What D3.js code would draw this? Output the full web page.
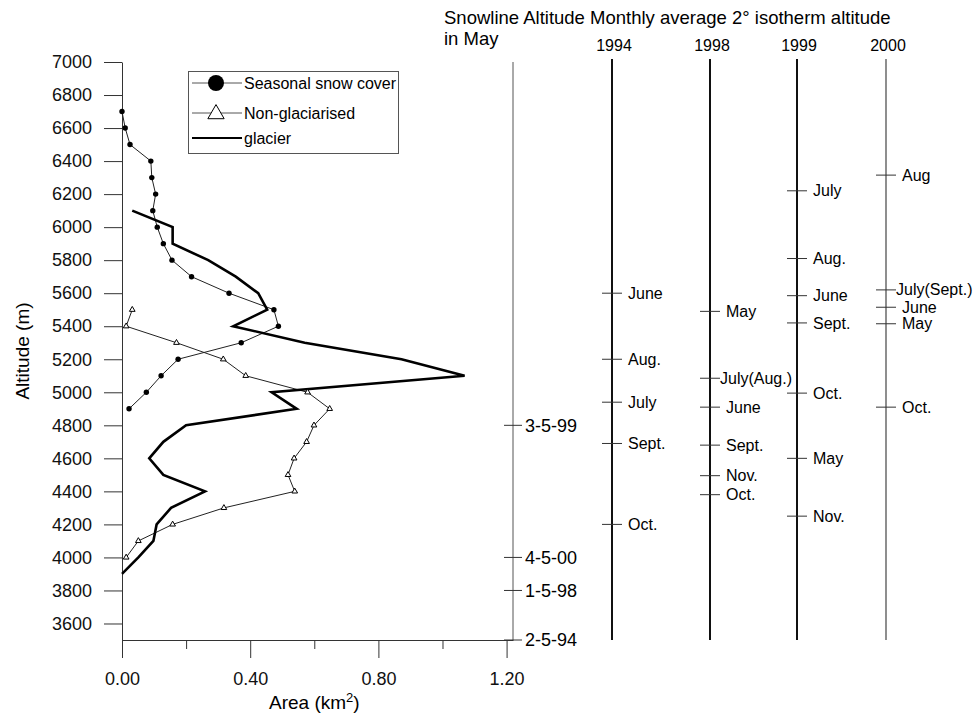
<!DOCTYPE html>
<html>
<head>
<meta charset="utf-8">
<script src="https://cdn.jsdelivr.net/npm/d3@7"></script>
<style>
  body { margin: 0; background: #fff; }
  svg, svg text { font-family: "Liberation Sans", Arial, Helvetica, sans-serif; }
  .axis text { font-size: 18px; fill: #111; font-family: "Liberation Sans", Arial, Helvetica, sans-serif; }
  .axis path, .axis line { stroke: #333; }
</style>
</head>
<body>
<div class="chartdiv"></div>
<script>
// area (km2) by altitude band
var snowAlt = [6700, 6600, 6500, 6400, 6300, 6200, 6100, 6000, 5900, 5800, 5700, 5600, 5500, 5400, 5300, 5200, 5100, 5000, 4900];
var snowArea = [0.00, 0.01, 0.025, 0.09, 0.093, 0.105, 0.096, 0.11, 0.129, 0.156, 0.217, 0.334, 0.474, 0.488, 0.372, 0.175, 0.122, 0.076, 0.022];

var nonGlacAlt = [5500, 5400, 5300, 5200, 5100, 5000, 4900, 4800, 4700, 4600, 4500, 4400, 4300, 4200, 4100, 4000];
var nonGlacArea = [0.032, 0.013, 0.17, 0.316, 0.386, 0.579, 0.648, 0.599, 0.576, 0.537, 0.518, 0.539, 0.318, 0.158, 0.051, 0.013];

var glacierAlt = [6100, 6000, 5900, 5800, 5700, 5600, 5500, 5400, 5300, 5200, 5100, 5000, 4900, 4800, 4700, 4600, 4500, 4400, 4300, 4200, 4100, 4000, 3900];
var glacierArea = [0.032, 0.158, 0.158, 0.269, 0.355, 0.425, 0.453, 0.347, 0.570, 0.872, 1.069, 0.467, 0.545, 0.200, 0.129, 0.085, 0.129, 0.259, 0.153, 0.108, 0.098, 0.051, 0.00];

// snowline altitude in May
var snowDates = ["3-5-99", "4-5-00", "1-5-98", "2-5-94"];
var snowDateAlt = [4800, 4000, 3800, 3500];

// monthly average 2 degree isotherm altitude
var years = ["1994", "1998", "1999", "2000"];
var months1994 = ["June", "Aug.", "July", "Sept.", "Oct."];
var alt1994 = [5600, 5200, 4940, 4690, 4200];
var months1998 = ["May", "July(Aug.)", "June", "Sept.", "Nov.", "Oct."];
var alt1998 = [5490, 5085, 4910, 4680, 4495, 4380];
var months1999 = ["July", "Aug.", "June", "Sept.", "Oct.", "May", "Nov."];
var alt1999 = [6220, 5810, 5585, 5420, 4995, 4600, 4250];
var months2000 = ["Aug", "July(Sept.)", "June", "May", "Oct."];
var alt2000 = [6315, 5620, 5515, 5415, 4910];

var xTicks = [0, 0.4, 0.8, 1.2];
var xMinor = [0.2, 0.6, 1.0];
var yTicks = d3.range(3600, 7001, 200);

var margin = {top: 62, right: 463, bottom: 77, left: 122};
var width = 976 - margin.left - margin.right;
var height = 717 - margin.top - margin.bottom;

var x = d3.scaleLinear().domain([0, 1.22]).range([0, width]);
var y = d3.scaleLinear().domain([3500, 7000]).range([height, 0]);

var svgRoot = d3.select(".chartdiv")
    .append("svg")
    .attr("width", 976)
    .attr("height", 717);

svgRoot.append("rect").attr("width", 976).attr("height", 717).attr("fill", "#fff");

var svg = svgRoot.append("g")
    .attr("transform", "translate(" + margin.left + "," + margin.top + ")");

// y axis
svg.append("g")
    .classed("axis", true)
    .call(d3.axisLeft(y).tickValues(yTicks).tickSize(18).tickSizeOuter(0).tickPadding(12).tickFormat(d3.format("d")))
    .call(function(g) { g.selectAll("line").attr("stroke", "#111"); });

// x axis, major and minor ticks
svg.append("g")
    .classed("axis", true)
    .attr("transform", "translate(0," + height + ")")
    .call(d3.axisBottom(x).tickValues(xTicks).tickSize(18).tickSizeOuter(0).tickPadding(14).tickFormat(d3.format(".2f")))
    .call(function(g) { g.select(".domain").attr("stroke", "#666"); });

svg.append("g")
    .classed("axis", true)
    .attr("transform", "translate(0," + height + ")")
    .call(d3.axisBottom(x).tickValues(xMinor).tickSize(9).tickSizeOuter(0).tickFormat(""))
    .call(function(g) { g.select(".domain").remove(); });

// axis titles
svgRoot.append("text")
    .attr("transform", "translate(29," + (margin.top + height / 2) + ") rotate(-90)")
    .style("text-anchor", "middle")
    .style("font-size", "19px")
    .text("Altitude (m)");

var xt = svgRoot.append("text")
    .attr("x", margin.left + (x(0) + x(1.2)) / 2)
    .attr("y", 709)
    .style("text-anchor", "middle")
    .style("font-size", "19px");
xt.append("tspan").text("Area (km");
xt.append("tspan").attr("dy", "-7").style("font-size", "13px").text("2");
xt.append("tspan").attr("dy", "7").text(")");

// series lines
function pts(xs, ys) {
  return xs.map(function(v, i) { return [x(v), y(ys[i])]; });
}
var line = d3.line();

svg.append("path")
    .attr("d", line(pts(snowArea, snowAlt)))
    .attr("fill", "none").attr("stroke", "#222").attr("stroke-width", 1);

svg.append("path")
    .attr("d", line(pts(nonGlacArea, nonGlacAlt)))
    .attr("fill", "none").attr("stroke", "#222").attr("stroke-width", 1);

svg.append("path")
    .attr("d", line(pts(glacierArea, glacierAlt)))
    .attr("fill", "none").attr("stroke", "#000").attr("stroke-width", 2.6)
    .attr("stroke-linejoin", "miter");

svg.selectAll(".snowdot")
    .data(pts(snowArea, snowAlt))
  .enter().append("circle")
    .attr("cx", function(d) { return d[0]; })
    .attr("cy", function(d) { return d[1]; })
    .attr("r", 2.7)
    .attr("fill", "#000");

var tri = d3.symbol().type(d3.symbolTriangle).size(14);
svg.selectAll(".tri")
    .data(pts(nonGlacArea, nonGlacAlt))
  .enter().append("path")
    .attr("d", tri)
    .attr("transform", function(d) { return "translate(" + d[0] + "," + d[1] + ")"; })
    .attr("fill", "#fff").attr("stroke", "#000").attr("stroke-width", 1);

// legend
var legend = svgRoot.append("g");
legend.append("rect")
    .attr("x", 188.5).attr("y", 71.5).attr("width", 210).attr("height", 82)
    .attr("fill", "none").attr("stroke", "#555");
var legRows = [83, 113, 138];
var legText = ["Seasonal snow cover", "Non-glaciarised", "glacier"];
legRows.forEach(function(ry, i) {
  legend.append("line")
      .attr("x1", 192).attr("x2", 242).attr("y1", ry).attr("y2", ry)
      .attr("stroke", i === 2 ? "#000" : "#555")
      .attr("stroke-width", i === 2 ? 2.2 : 1);
  legend.append("text")
      .attr("x", 244).attr("y", ry + 6)
      .style("font-size", "16px")
      .text(legText[i]);
});
legend.append("circle").attr("cx", 216).attr("cy", legRows[0]).attr("r", 8).attr("fill", "#000");
legend.append("path")
    .attr("d", d3.symbol().type(d3.symbolTriangle).size(115)())
    .attr("transform", "translate(216," + (legRows[1] + 1) + ")")
    .attr("fill", "#fff").attr("stroke", "#000").attr("stroke-width", 1);

// snowline altitude axis on the right edge of the plot
var sx = x.range()[1];
svg.append("line")
    .attr("x1", sx).attr("x2", sx).attr("y1", 0).attr("y2", height)
    .attr("stroke", "#555").attr("stroke-width", 1);
snowDates.forEach(function(lbl, i) {
  var yy = y(snowDateAlt[i]);
  svg.append("line")
      .attr("x1", sx - 9).attr("x2", sx + 9).attr("y1", yy).attr("y2", yy)
      .attr("stroke", "#333");
  svg.append("text")
      .attr("x", sx + 12).attr("y", yy).attr("dy", "0.35em")
      .style("font-size", "18px")
      .text(lbl);
});

// titles above columns
svgRoot.append("text").attr("x", 444).attr("y", 24).style("font-size", "18.5px")
    .text("Snowline Altitude Monthly average 2\u00b0 isotherm altitude");
svgRoot.append("text").attr("x", 444).attr("y", 45).style("font-size", "18.5px")
    .text("in May");

// isotherm columns
var colX = [612, 710, 797, 886];
var colW = [2, 2, 2, 1.2];
var colMonths = [months1994, months1998, months1999, months2000];
var colAlt = [alt1994, alt1998, alt1999, alt2000];

years.forEach(function(yr, c) {
  var cx = colX[c] - margin.left;
  svg.append("line")
      .attr("x1", cx).attr("x2", cx).attr("y1", -3).attr("y2", height)
      .attr("stroke", c === 3 ? "#444" : "#111").attr("stroke-width", colW[c]);
  svgRoot.append("text")
      .attr("x", colX[c] + 2).attr("y", 51)
      .style("text-anchor", "middle")
      .style("font-size", "16px")
      .text(yr);
  colMonths[c].forEach(function(m, i) {
    var yy = y(colAlt[c][i]);
    svg.append("line")
        .attr("x1", cx - 10).attr("x2", cx + 10).attr("y1", yy).attr("y2", yy)
        .attr("stroke", "#333");
    svg.append("text")
        .attr("x", cx + (m.indexOf("(") >= 0 ? 10 : 16)).attr("y", yy).attr("dy", "0.35em")
        .style("font-size", "16px")
        .text(m);
  });
});
</script>
</body>
</html>
